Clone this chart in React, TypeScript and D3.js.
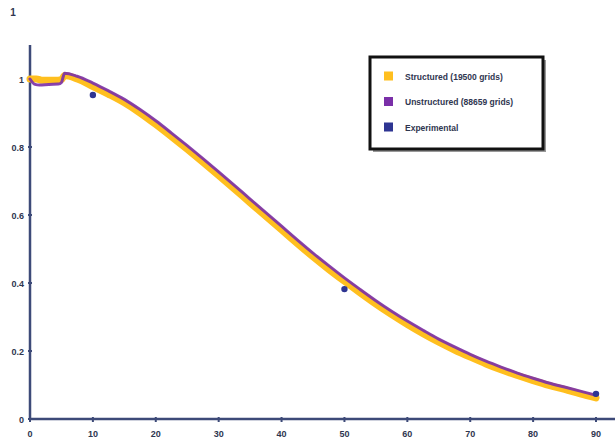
import React from 'react';
import * as d3 from 'd3';

// values
const structuredX = [0, 1, 2, 3, 4, 5, 5.5, 7.5, 10, 12.5, 15, 17.5, 20, 22.5, 25, 27.5, 30, 32.5, 35, 37.5, 40, 42.5, 45, 47.5, 50, 52.5, 55, 57.5, 60, 62.5, 65, 67.5, 70, 72.5, 75, 77.5, 80, 82.5, 85, 87.5, 90];
const structuredY = [1.0, 1.0, 0.996, 0.996, 0.996, 0.998, 1.01, 1.0, 0.978, 0.955, 0.93, 0.9, 0.866, 0.83, 0.793, 0.755, 0.716, 0.676, 0.636, 0.596, 0.556, 0.516, 0.477, 0.44, 0.405, 0.371, 0.338, 0.307, 0.278, 0.251, 0.226, 0.203, 0.182, 0.162, 0.144, 0.128, 0.113, 0.099, 0.087, 0.074, 0.062];

const unstructuredX = [0, 0.8, 1.5, 3, 4.5, 5, 5.5, 7.5, 10, 12.5, 15, 17.5, 20, 22.5, 25, 27.5, 30, 32.5, 35, 37.5, 40, 42.5, 45, 47.5, 50, 52.5, 55, 57.5, 60, 62.5, 65, 67.5, 70, 72.5, 75, 77.5, 80, 82.5, 85, 87.5, 90];
const unstructuredY = [1.0, 0.984, 0.982, 0.984, 0.985, 0.99, 1.017, 1.008, 0.988, 0.965, 0.94, 0.91, 0.877, 0.841, 0.804, 0.766, 0.727, 0.687, 0.647, 0.607, 0.567, 0.527, 0.488, 0.451, 0.415, 0.381, 0.348, 0.317, 0.288, 0.261, 0.235, 0.212, 0.19, 0.17, 0.152, 0.135, 0.12, 0.106, 0.094, 0.082, 0.07];

const experimentalX = [10, 50, 90];
const experimentalY = [0.953, 0.382, 0.074];

const xTicks = [0, 10, 20, 30, 40, 50, 60, 70, 80, 90];
const yTicks = [0, 0.2, 0.4, 0.6, 0.8, 1];

const legendLabels = ['Structured (19500 grids)', 'Unstructured (88659 grids)', 'Experimental'];
const legendColors = ['#ffbf1f', '#7a2fa8', '#2e3592'];

const W = 615;
const H = 443;
const axisColor = '#3d4a78';
const labelColor = '#2f3650';

export default function App() {
  const x = d3.scaleLinear().domain([0, 90]).range([30, 596]);
  const y = d3.scaleLinear().domain([0, 1]).range([419, 79]);

  const line = d3.line<[number, number]>()
    .x(d => x(d[0]))
    .y(d => y(d[1]))
    .curve(d3.curveMonotoneX);

  const structured = structuredX.map((v, i) => [v, structuredY[i]] as [number, number]);
  const unstructured = unstructuredX.map((v, i) => [v, unstructuredY[i]] as [number, number]);

  const fmt = (v: number) => (v === 0 || v === 1 ? String(v) : v.toFixed(1));

  return (
    <div style={{ position: 'fixed', left: 0, top: 0 }}>
      <svg width={W} height={H} style={{ display: 'block', background: '#fff', fontFamily: 'Arial, "Liberation Sans", sans-serif' }}>
        {/* stray top label */}
        <text x={13} y={16} textAnchor="middle" fontSize={10} fontWeight="bold" fill={labelColor}>1</text>

        {/* axes */}
        <line x1={x(0)} x2={x(0)} y1={y(1.1)} y2={y(0)} stroke={axisColor} strokeWidth={2.5} />
        <line x1={x(0)} x2={W} y1={y(0)} y2={y(0)} stroke={axisColor} strokeWidth={2.5} />

        {yTicks.map(t => (
          <g key={'y' + t}>
            <line x1={x(0) - 2} x2={x(0) + 2} y1={y(t)} y2={y(t)} stroke={axisColor} strokeWidth={2} />
            <text x={24} y={y(t) + 3.5} textAnchor="end" fontSize={9} fontWeight="bold" fill={labelColor}>{fmt(t)}</text>
          </g>
        ))}
        {xTicks.map(t => (
          <g key={'x' + t}>
            <line x1={x(t)} x2={x(t)} y1={y(0) - 2} y2={y(0) + 3} stroke={axisColor} strokeWidth={2} />
            <text x={x(t)} y={437} textAnchor="middle" fontSize={9} fontWeight="bold" fill={labelColor}>{t}</text>
          </g>
        ))}

        {/* series */}
        <path d={line(structured) || ''} fill="none" stroke={legendColors[0]} strokeWidth={7} strokeLinejoin="round" strokeLinecap="round" />
        <path d={line(unstructured) || ''} fill="none" stroke={legendColors[1]} strokeWidth={3} strokeLinejoin="round" strokeLinecap="round" opacity={0.9} />
        {experimentalX.map((v, i) => (
          <circle key={'e' + i} cx={x(v)} cy={y(experimentalY[i])} r={3.2} fill={legendColors[2]} />
        ))}

        {/* legend */}
        <g transform="translate(370,57)">
          <rect x={3} y={3} width={173} height={92} fill="#555" opacity={0.6} />
          <rect x={0} y={0} width={173} height={92} fill="#fff" stroke="#111" strokeWidth={3} />
          {legendLabels.map((lab, i) => (
            <g key={lab} transform={`translate(0,${19 + i * 25.5})`}>
              <rect x={14} y={-4.5} width={9} height={9} fill={legendColors[i]} />
              <text x={35} y={3.5} fontSize={8.5} fontWeight="bold" fill={labelColor}>{lab}</text>
            </g>
          ))}
        </g>
      </svg>
    </div>
  );
}
